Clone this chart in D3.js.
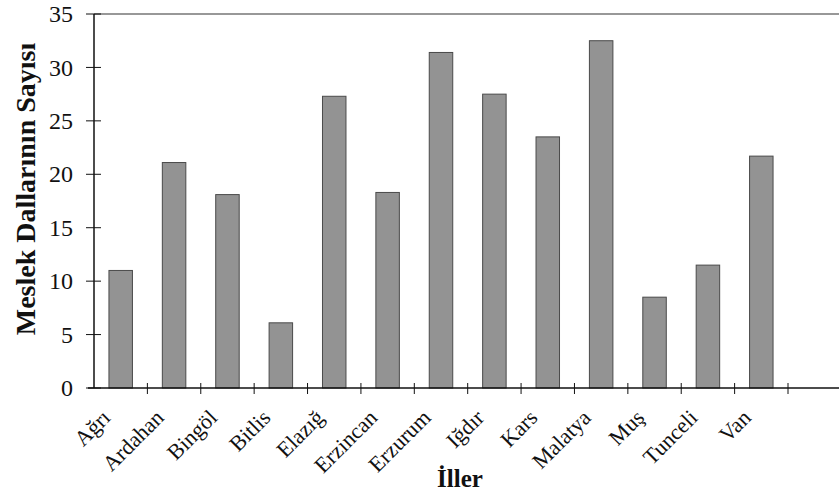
<!DOCTYPE html>
<html>
<head>
<meta charset="utf-8">
<script src="https://cdn.jsdelivr.net/npm/d3@7"></script>
<style>
	body { margin: 0; background: #fff; }
	svg { display: block; }
	text { font-family: "Liberation Serif", "DejaVu Serif", serif; fill: #111; }
</style>
</head>
<body>
<svg id="chart" width="839" height="494"></svg>
<script>
// data
var iller = ['Ağrı', 'Ardahan', 'Bingöl', 'Bitlis', 'Elazığ', 'Erzincan', 'Erzurum', 'Iğdır', 'Kars', 'Malatya', 'Muş', 'Tunceli', 'Van'];
var sayilar = [11, 21.1, 18.1, 6.1, 27.3, 18.3, 31.4, 27.5, 23.5, 32.5, 8.5, 11.5, 21.7];
var yTicks = [0, 5, 10, 15, 20, 25, 30, 35];

(function () {
	var svg = d3.select('#chart');

	// plot edges (note: "top" is taken by window.top)
	var pLeft = 94, pRight = 788, pTop = 14, pBottom = 388;

	var x = d3.scaleBand()
		.domain(iller)
		.range([pLeft, pRight])
		.paddingInner(0.56)
		.paddingOuter(0.28);

	var y = d3.scaleLinear()
		.domain([0, 35])
		.range([pBottom, pTop]);

	// band boundaries for the x ticks
	var step = x.step();
	var xTickPos = d3.range(iller.length + 1).map(function (i) { return pLeft + i * step; });

	// bars
	svg.append('g').selectAll('rect')
		.data(sayilar)
		.enter().append('rect')
		.attr('x', function (d, i) { return x(iller[i]); })
		.attr('y', function (d) { return y(d); })
		.attr('width', x.bandwidth())
		.attr('height', function (d) { return pBottom - y(d); })
		.style('fill', '#939393')
		.style('stroke', '#4a4a4a')
		.style('stroke-width', '1px');

	// frame: top line, y axis, x axis
	svg.append('line').attr('x1', pLeft).attr('y1', pTop).attr('x2', 839).attr('y2', pTop)
		.style('stroke', '#333').style('stroke-width', '1.2px');
	svg.append('line').attr('x1', pLeft).attr('y1', pTop).attr('x2', pLeft).attr('y2', pBottom)
		.style('stroke', '#111').style('stroke-width', '1.5px');
	svg.append('line').attr('x1', pLeft - 6).attr('y1', pBottom).attr('x2', 839).attr('y2', pBottom)
		.style('stroke', '#111').style('stroke-width', '1.5px');

	// y ticks (cross the axis)
	var yAxis = svg.append('g');
	yAxis.selectAll('line')
		.data(yTicks)
		.enter().append('line')
		.attr('x1', pLeft - 8).attr('x2', pLeft + 7)
		.attr('y1', function (d) { return y(d); })
		.attr('y2', function (d) { return y(d); })
		.style('stroke', '#111').style('stroke-width', '1px');
	yAxis.selectAll('text')
		.data(yTicks)
		.enter().append('text')
		.attr('x', 73)
		.attr('y', function (d) { return y(d); })
		.attr('dy', '0.34em')
		.attr('text-anchor', 'end')
		.style('font-size', '24px')
		.text(function (d) { return d; });

	// x ticks
	svg.append('g').selectAll('line')
		.data(xTickPos.slice(1))
		.enter().append('line')
		.attr('x1', function (d) { return d; })
		.attr('x2', function (d) { return d; })
		.attr('y1', pBottom - 5).attr('y2', pBottom + 6)
		.style('stroke', '#111').style('stroke-width', '1px');

	// x labels, rotated
	svg.append('g').selectAll('text')
		.data(iller)
		.enter().append('text')
		.attr('transform', function (d) {
			return 'translate(' + (x(d) + x.bandwidth() / 2 - 9) + ',' + 419 + ') rotate(-45)';
		})
		.attr('text-anchor', 'end')
		.style('font-size', '22px')
		.text(function (d) { return d; });

	// axis titles
	svg.append('text')
		.attr('transform', 'translate(35,189) rotate(-90)')
		.attr('text-anchor', 'middle')
		.style('font-size', '28px')
		.style('font-weight', 'bold')
		.text('Meslek Dallarının Sayısı');

	svg.append('text')
		.attr('x', 460).attr('y', 487)
		.attr('text-anchor', 'middle')
		.style('font-size', '25px')
		.style('font-weight', 'bold')
		.text('İller');
})();
</script>
</body>
</html>
